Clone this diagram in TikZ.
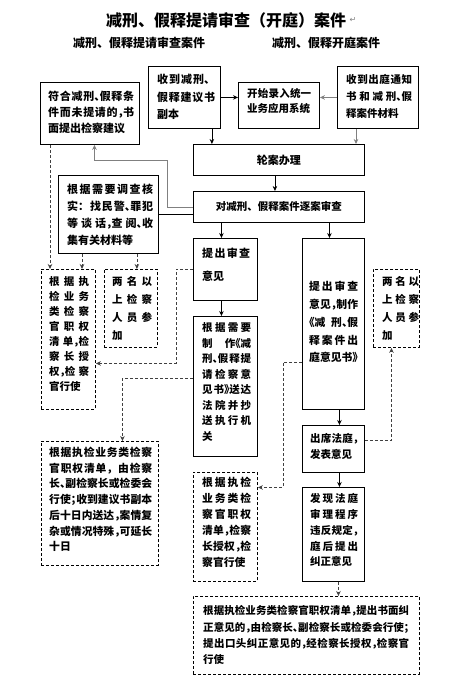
\documentclass[tikz,border=0pt]{standalone}
\usepackage{fontspec}
\setmainfont{Noto Sans CJK SC}
\newfontfamily\symfont{DejaVu Sans}
\usetikzlibrary{arrows.meta,positioning}

\XeTeXlinebreaklocale "zh"
\XeTeXlinebreakskip=0pt plus 4pt
\tolerance=10000
\hbadness=10000

% half width punctuation
\newcommand\hpl[1]{\makebox[.5em][l]{#1}}
\newcommand\hpr[1]{\makebox[.5em][r]{#1}}
\newcommand\fsz[2]{\fontsize{#1}{#2}\selectfont\bfseries}

\tikzset{
  box/.style={draw,line width=0.9pt,inner sep=0pt,anchor=north west},
  dbox/.style={box,dash pattern=on 3pt off 2pt},
  txt/.style={inner sep=0pt,anchor=north west,align=justify},
  conn/.style={->,line width=0.8pt},
  dconn/.style={conn,dash pattern=on 3pt off 2pt,black!75},
}

\begin{document}
\begin{tikzpicture}[x=1pt,y=-1pt,>={Stealth[length=5pt,width=4.5pt]}]

\useasboundingbox (0,0) rectangle (457,680);

% The titles
\node[font=\fsz{16}{16}] (title) at (226,20) {减刑、假释提请审查（开庭）案件};
\node[right=0pt of title,font=\symfont\fontsize{8}{8}\selectfont,text=gray,inner sep=0pt] (mark) {↵};
\node[font=\fsz{12}{12}] (subA) at (139,43) {减刑、假释提请审查案件};
\node[font=\fsz{12}{12}] (subB) at (326,43) {减刑、假释开庭案件};

% The boxes
\node[box,minimum width=99pt,minimum height=62pt] (fuhe) at (40,82) {};
\node[box,minimum width=72pt,minimum height=62pt] (shoudao) at (148,66) {};
\node[box,minimum width=81pt,minimum height=46pt] (luru) at (238,82) {};
\node[box,minimum width=81pt,minimum height=62pt] (chuting) at (337,66) {};
\node[box,minimum width=171pt,minimum height=31pt,font=\fsz{11}{11}] (lunan) at (193,144) {轮案办理};
\node[box,minimum width=171pt,minimum height=31pt,font=\fsz{10.5}{11}] (shencha) at (193,191) {对减刑、假释案件逐案审查};
\node[box,minimum width=100pt,minimum height=78pt] (diaocha) at (58,175) {};
\node[dbox,minimum width=54pt,minimum height=140pt] (zhiquanA) at (41,269) {};
\node[dbox,minimum width=53pt,minimum height=78pt] (liangmingA) at (104,269) {};
\node[box,minimum width=64pt,minimum height=62pt] (tichuA) at (193,238) {};
\node[box,minimum width=64pt,minimum height=140pt] (zhizuo) at (193,316) {};
\node[dbox,minimum width=117pt,minimum height=124pt] (zhiquanB) at (41,441) {};
\node[box,minimum width=62pt,minimum height=171pt] (tichuB) at (302,238) {};
\node[dbox,minimum width=46pt,minimum height=78pt] (liangmingB) at (373,269) {};
\node[box,minimum width=62pt,minimum height=47pt] (chuxi) at (302,425) {};
\node[dbox,minimum width=64pt,minimum height=109pt] (zhiquanC) at (193,472) {};
\node[box,minimum width=62pt,minimum height=94pt] (jiuzheng) at (302,487) {};
\node[dbox,minimum width=226pt,minimum height=78pt] (zhiquanD) at (193,596) {};

% The texts in the boxes
\node[txt,text width=86pt,font=\fsz{11}{16}] (fuhetxt) at (48,91.3) {符合减刑\hpl{、}假释条\linebreak 件而未提请的\hpl{，}书\linebreak 面提出检察建议};
\node[txt,text width=58pt,font=\fsz{11}{17.5}] (shoudaotxt) at (157,74.3) {收到减刑、\linebreak 假释建议书\linebreak 副本};
\node[txt,text width=64pt,font=\fsz{10.5}{15}] (lurutxt) at (247,88.5) {开始录入统一\linebreak 业务应用系统};
\node[txt,text width=66pt,font=\fsz{10.5}{17}] (chutingtxt) at (346,74.5) {收到出庭通知\linebreak 书和减刑\hpl{、}假\linebreak 释案件材料};
\node[txt,text width=86pt,font=\fsz{11}{17}] (diaochatxt) at (67,183.3) {根据需要调查核\linebreak 实：找民警\hpl{、}罪犯\linebreak 等谈话\hpl{，}查阅\hpl{、}收\linebreak 集有关材料等};
\node[txt,text width=40pt,font=\fsz{10.5}{15}] (zhiquanAtxt) at (49,276) {根据执\linebreak 检业务\linebreak 类检察\linebreak 官职权\linebreak 清单\hpl{，}检\linebreak 察长授\linebreak 权\hpl{，}检察\linebreak 官行使};
\node[txt,text width=40pt,font=\fsz{10.5}{18}] (liangmingAtxt) at (112,276.5) {两名以\linebreak 上检察\linebreak 人员参\linebreak 加};
\node[txt,text width=48pt,font=\fsz{11}{23}] (tichuAtxt) at (202,247.3) {提出审查\linebreak 意见};
\node[txt,text width=49pt,font=\fsz{10.5}{15.5}] (zhizuotxt) at (202,322.5) {根据需要\linebreak 制作\hpr{《}减\linebreak 刑\hpl{、}假释提\linebreak 请检察意\linebreak 见书\hpl{》}送达\linebreak 法院并抄\linebreak 送执行机\linebreak 关};
\node[txt,text width=103pt,font=\fsz{10.8}{15.7}] (zhiquanBtxt) at (49,447) {根据执检业务类检察\linebreak 官职权清单，由检察\linebreak 长\hpl{、}副检察长或检委会\linebreak 行使\hpl{；}收到建议书副本\linebreak 后十日内送达\hpl{，}案情复\linebreak 杂或情况特殊\hpl{，}可延长\linebreak 十日};
\node[txt,text width=49pt,font=\fsz{10.8}{17.7}] (tichuBtxt) at (309,281.4) {提出审查\linebreak 意见\hpl{，}制作\linebreak \hpr{《}减刑\hpl{、}假\linebreak 释案件出\linebreak 庭意见书\hpl{》}};
\node[txt,text width=37pt,font=\fsz{10.5}{18}] (liangmingBtxt) at (382,276.5) {两名以\linebreak 上检察\linebreak 人员参\linebreak 加};
\node[txt,text width=48pt,font=\fsz{10.5}{16}] (chuxitxt) at (310,433.5) {出席法庭\hpl{，}\linebreak 发表意见};
\node[txt,text width=49pt,font=\fsz{10.8}{16}] (zhiquanCtxt) at (202,477.4) {根据执检\linebreak 业务类检\linebreak 察官职权\linebreak 清单\hpl{，}检察\linebreak 长授权\hpl{，}检\linebreak 察官行使};
\node[txt,text width=48pt,font=\fsz{10.5}{15.75}] (jiuzhengtxt) at (310,493.5) {发现法庭\linebreak 审理程序\linebreak 违反规定\hpl{，}\linebreak 庭后提出\linebreak 纠正意见};
\node[txt,text width=206pt,font=\fsz{10.5}{16.3}] (zhiquanDtxt) at (203,605.5) {根据执检业务类检察官职权清单\hpl{，}提出书面纠\linebreak 正意见的\hpl{，}由检察长\hpl{、}副检察长或检委会行使\hpl{；}\linebreak 提出口头纠正意见的\hpl{，}经检察长授权\hpl{，}检察官\linebreak 行使};

% The top row
\draw[conn] (shoudao.east) -- (shoudao.east -| luru.west);
\draw[conn,gray] (chuting.west) -- (chuting.west -| luru.east);
\draw[conn] ([xshift=-9pt]shoudao.south east) -- ([xshift=-9pt]shoudao.south east |- lunan.north);
\draw[conn,gray] ([xshift=19pt]chuting.south west) -- ([xshift=19pt]chuting.south west |- lunan.north);
\draw[conn] ([xshift=-4pt]lunan.south) -- ([xshift=-4pt]shencha.north);

% The review
\draw[conn,gray] (shencha.west) -| (167,160) -| ([xshift=4.5pt]fuhe.south);
\draw[line width=0.8pt] (diaocha.east) -- (diaocha.east -| shencha.west);
\draw[conn] ([xshift=-4pt]tichuA.north |- shencha.south) -- ([xshift=-4pt]tichuA.north);
\draw[conn] ([xshift=-4pt]tichuB.north |- shencha.south) -- ([xshift=-4pt]tichuB.north);

\foreach \a/\b/\s in {tichuA/zhizuo/-4pt,tichuB/chuxi/6pt,chuxi/jiuzheng/6pt}
{
	\draw[conn] ([xshift=\s]\a.south) -- ([xshift=\s]\b.north);
}

% The dashed connectors
\draw[dconn] ([xshift=10pt]fuhe.south west) -- ([xshift=10pt]fuhe.south west |- zhiquanA.north);
\draw[dconn] ([xshift=24pt]diaocha.south west) -- ([xshift=24pt]diaocha.south west |- zhiquanA.north);
\draw[dconn] ([xshift=-22pt]diaocha.south east) -- ([xshift=-22pt]diaocha.south east |- liangmingA.north);
\draw[dconn] (tichuA.west) -- ++(-17,0) |- ([yshift=-24pt]zhiquanA.east);
\draw[dconn] ([yshift=8pt]zhizuo.west) -| ([xshift=22.5pt]zhiquanB.north);
\draw[dconn] ([yshift=-38.5pt]tichuB.west) -- ++(-19,0) |- ([yshift=39.5pt]zhiquanC.east);
\draw[dconn] ([yshift=8.5pt]chuxi.east) -| ([xshift=-5pt]liangmingB.south);
\draw[dconn] ([xshift=5pt]jiuzheng.south) -- ([xshift=5pt]jiuzheng.south |- zhiquanD.north);

\end{tikzpicture}
\end{document}
